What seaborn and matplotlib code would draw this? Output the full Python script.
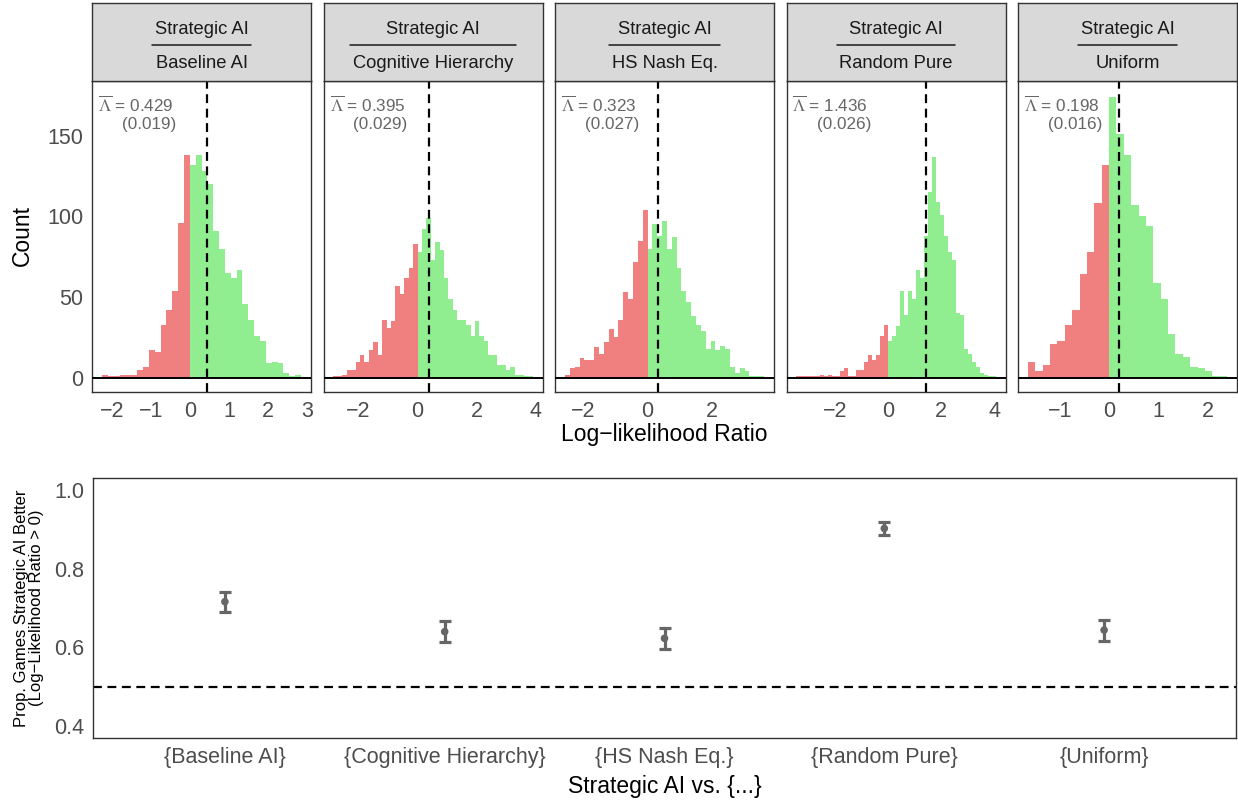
import numpy as np
import pandas as pd
import matplotlib
matplotlib.use("Agg")
import matplotlib.pyplot as plt
from matplotlib.lines import Line2D
import seaborn as sns

# ---------------- data ----------------
comparators = ["Baseline AI", "Cognitive Hierarchy", "HS Nash Eq.", "Random Pure", "Uniform"]
bin_width = 0.15

# histogram counts (left of 0 = negative LLR, right of 0 = positive LLR)
baseline_neg = [2, 1, 1, 2, 2, 2, 5, 7, 17, 16, 33, 42, 54, 96, 138]
baseline_pos = [132, 138, 128, 120, 91, 80, 65, 62, 67, 46, 36, 26, 23, 9, 10, 9, 3, 1, 2]
cognitive_neg = [1, 1, 2, 5, 5, 10, 14, 10, 17, 22, 14, 36, 31, 35, 57, 52, 62, 68, 83]
cognitive_pos = [78, 92, 99, 73, 84, 79, 62, 49, 42, 36, 36, 33, 26, 35, 26, 23, 14, 14,
                 8, 8, 5, 7, 2, 2, 1, 1]
nash_neg = [2, 6, 7, 12, 11, 11, 19, 15, 22, 30, 25, 36, 53, 49, 72, 85, 104]
nash_pos = [80, 95, 88, 97, 80, 87, 68, 54, 47, 38, 33, 29, 18, 23, 17, 20, 18, 7, 3, 6,
            4, 1, 1, 1]
random_neg = [1, 1, 1, 1, 1, 1, 2, 1, 2, 1, 1, 4, 6, 1, 1, 5, 5, 10, 14, 11, 14, 26, 33]
random_pos = [23, 26, 32, 54, 39, 54, 49, 67, 62, 88, 115, 137, 109, 101, 88, 78, 73, 40,
              39, 18, 15, 10, 7, 3, 2, 1, 1]
uniform_neg = [10, 4, 8, 21, 23, 33, 42, 64, 78, 108, 132]
uniform_pos = [174, 151, 138, 107, 100, 94, 59, 49, 27, 15, 13, 7, 6, 4, 1, 1]

neg_counts = [baseline_neg, cognitive_neg, nash_neg, random_neg, uniform_neg]
pos_counts = [baseline_pos, cognitive_pos, nash_pos, random_pos, uniform_pos]

mean_llr = [0.429, 0.395, 0.323, 1.436, 0.198]
se_llr = ["0.019", "0.029", "0.027", "0.026", "0.016"]
mean_llr_text = ["0.429", "0.395", "0.323", "1.436", "0.198"]

hist_xticks = [[-2, -1, 0, 1, 2, 3], [-2, 0, 2, 4], [-2, 0, 2], [-2, 0, 2, 4], [-1, 0, 1, 2]]
hist_yticks = [0, 50, 100, 150]

bottom_labels = ["{Baseline AI}", "{Cognitive Hierarchy}", "{HS Nash Eq.}",
                 "{Random Pure}", "{Uniform}"]
prop_better = [0.716, 0.640, 0.623, 0.902, 0.644]
prop_low = [0.690, 0.614, 0.597, 0.885, 0.617]
prop_high = [0.740, 0.666, 0.648, 0.919, 0.670]
bottom_yticks = [0.4, 0.6, 0.8, 1.0]

# ---------------- style ----------------
sns.set_style("white")
plt.rcParams["font.family"] = ["Liberation Sans", "DejaVu Sans"]
plt.rcParams["axes.unicode_minus"] = True

RED = "#F08080"
GREEN = "#90EE90"
BORDER = "#333333"
TICKLAB = "#4D4D4D"

W, H = 1238, 801
fig = plt.figure(figsize=(W / 100, H / 100), dpi=100)


def fr(l, t, r, b):
    return [l / W, 1 - b / H, (r - l) / W, (b - t) / H]


def style_axes(ax):
    for s in ax.spines.values():
        s.set_color(BORDER)
        s.set_linewidth(1.0)
        s.set_visible(True)
    ax.tick_params(direction="out", length=4.2, width=1, color=BORDER,
                   labelcolor=TICKLAB, labelsize=15.5, pad=2)


panel_left = [92, 323.5, 555, 786.5, 1018]
pw = 219
p_top, p_bot = 81, 392
strip_axes = []
for i, name in enumerate(comparators):
    ax = fig.add_axes(fr(panel_left[i], p_top, panel_left[i] + pw, p_bot))
    neg = neg_counts[i]
    pos = pos_counts[i]
    n_neg = len(neg)
    n = n_neg + len(pos)
    lo = -n_neg * bin_width
    hi = len(pos) * bin_width
    centers = lo + bin_width * (np.arange(n) + 0.5)
    df = pd.DataFrame({"llr": centers, "count": neg + pos,
                       "sign": ["neg"] * n_neg + ["pos"] * len(pos)})
    sns.histplot(data=df, x="llr", weights="count", hue="sign", hue_order=["neg", "pos"],
                 bins=n, binrange=(lo, hi), palette={"neg": RED, "pos": GREEN},
                 alpha=1, linewidth=0, legend=False, ax=ax)
    ax.axhline(0, color="black", lw=1.4, zorder=3)
    ax.axvline(mean_llr[i], color="black", lw=1.6, ls=(0, (4, 2.5)), zorder=4)
    rng = hi - lo
    ax.set_xlim(lo - 0.05 * rng, hi + 0.05 * rng)
    ax.set_ylim(-8.75, 183.75)
    style_axes(ax)
    ax.set_xticks(hist_xticks[i])
    ax.set_xticklabels([str(t).replace("-", "\u2212") for t in hist_xticks[i]])
    if i == 0:
        ax.set_yticks(hist_yticks)
        ax.set_yticklabels([str(t) for t in hist_yticks])
    else:
        ax.set_yticks([])
    ax.set_xlabel("")
    ax.set_ylabel("")
    # annotation
    ax.text(6 / pw, 1 - 24 / (p_bot - p_top),
            r"$\overline{\Lambda}$" + " = " + mean_llr_text[i],
            transform=ax.transAxes, ha="left", va="center", fontsize=12.3,
            color="#666666", math_fontfamily="stix")
    ax.text(30 / pw, 1 - 44 / (p_bot - p_top), "(" + se_llr[i] + ")",
            transform=ax.transAxes, ha="left", va="center", fontsize=12.3,
            color="#666666")

    # strip
    sax = fig.add_axes(fr(panel_left[i], 3, panel_left[i] + pw, p_top))
    sax.set_facecolor("#D9D9D9")
    sax.set_xticks([])
    sax.set_yticks([])
    for s in sax.spines.values():
        s.set_color(BORDER)
        s.set_linewidth(1.0)
    t1 = sax.text(0.5, 0.605, "Strategic AI", transform=sax.transAxes, ha="center",
                  va="baseline", fontsize=13.2, color="#1A1A1A")
    t2 = sax.text(0.5, 0.17, name, transform=sax.transAxes, ha="center",
                  va="baseline", fontsize=13.2, color="#1A1A1A")
    strip_axes.append((sax, t1, t2))

fig.text(22 / W, 1 - 236 / H, "Count", rotation=90, ha="center", va="center",
         fontsize=16.5, color="black")
fig.text(664 / W, 1 - 434 / H, "Log\u2212likelihood Ratio", ha="center", va="center",
         fontsize=16.5, color="black")

# fraction lines in strips
fig.canvas.draw()
renderer = fig.canvas.get_renderer()
for sax, t1, t2 in strip_axes:
    w1 = t1.get_window_extent(renderer).width
    w2 = t2.get_window_extent(renderer).width
    wmax = max(w1, w2) + 5
    bb = sax.get_window_extent(renderer)
    half = wmax / 2 / bb.width
    sax.add_line(Line2D([0.5 - half, 0.5 + half], [0.457, 0.457], transform=sax.transAxes,
                        color="#1A1A1A", lw=1.1))

# ---------------- bottom panel ----------------
bx = fig.add_axes(fr(93, 478, 1236, 738))
df2 = pd.DataFrame({"comparator": bottom_labels, "prop": prop_better,
                    "low": prop_low, "high": prop_high})
bx.axhline(0.5, color="black", lw=1.6, ls=(0, (4, 2.5)), zorder=1)
sns.scatterplot(data=df2, x="comparator", y="prop", ax=bx, color="#666666", s=30,
                edgecolor="none", zorder=3)
bx.errorbar(x=np.arange(len(bottom_labels)), y=df2["prop"],
            yerr=[df2["prop"] - df2["low"], df2["high"] - df2["prop"]],
            fmt="none", ecolor="#666666", elinewidth=2.3, capsize=4.5, capthick=2.3,
            zorder=2)
bx.set_xlim(-0.6, len(bottom_labels) - 1 + 0.6)
bx.set_ylim(0.37, 1.03)
style_axes(bx)
bx.set_xticks(np.arange(len(bottom_labels)))
bx.set_xticklabels(bottom_labels)
bx.set_yticks(bottom_yticks)
bx.set_yticklabels([f"{v:.1f}" for v in bottom_yticks])
bx.set_xlabel("")
bx.set_ylabel("")
fig.text(665 / W, 1 - 786 / H, "Strategic AI vs. {...}", ha="center", va="center",
         fontsize=16.5, color="black")
fig.text(29 / W, 1 - 608 / H, "Prop. Games Strategic AI Better\n(Log\u2212Likelihood Ratio > 0)",
         rotation=90, ha="center", va="center", fontsize=12, color="black",
         linespacing=1.0)

fig.savefig("out.png", dpi=100)
